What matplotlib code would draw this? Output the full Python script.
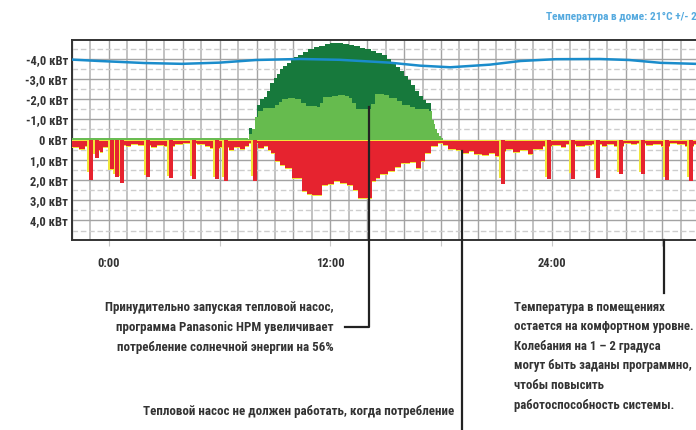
import matplotlib
matplotlib.use("Agg")
import matplotlib.pyplot as plt
from matplotlib import font_manager

# pick a condensed font with Cyrillic if one is installed
installed = {f.name for f in font_manager.fontManager.ttflist}
preferred = ['Roboto Condensed', 'PT Sans Narrow', 'Liberation Sans Narrow',
             'Open Sans Condensed', 'Fira Sans Condensed', 'Ubuntu Condensed', 'Roboto']
cond = [n for n in preferred if n in installed]
plt.rcParams['font.family'] = cond[:1] + ['DejaVu Sans']
plt.rcParams['font.weight'] = 'bold'

# ---- data (hours from midnight, kW) ----
# house consumption taken from the grid (step series, value holds until next time)
cons_t = [-2.0, -1.6, -1.3, -0.9, -0.5, -0.3, 0.0, 0.9, 1.2, 1.6, 2.3, 2.6, 3.0, 3.6, 4.0,
          4.8, 5.2, 5.5, 6.0, 6.5, 6.8, 7.1, 7.4, 7.6, 8.1, 8.4, 8.6, 8.8, 9.0, 9.3,
          9.55, 9.9, 10.45, 10.75, 11.0, 11.55, 11.85, 12.2, 12.55, 12.9, 13.25, 13.5, 14.25, 14.45, 14.7,
          15.1, 15.5, 15.85, 16.3, 16.65, 16.9, 17.15, 17.45, 17.85, 18.1, 18.4, 18.8, 19.2, 19.5, 19.8,
          20.2, 20.6, 20.9, 21.2, 21.5, 21.9, 22.3, 22.7, 23.0, 23.5, 24.0, 24.5, 24.8, 25.3, 25.8,
          26.2, 26.7, 27.0, 27.4, 27.9, 28.3, 28.6, 29.1, 29.5, 29.9, 30.4, 30.8, 31.2, 31.7, 32.2, 33.2]
cons_v = [0.35, 0.45, 0.3, 0.5, 0.6, 0.35, 0.25, 0.3, 0.2, 0.25, 0.35, 0.25, 0.3, 0.2, 0.15,
          0.2, 0.3, 0.4, 0.35, 0.5, 0.35, 0.45, 0.3, 0.15, 0.4, 0.3, 0.5, 0.64, 1.04, 1.24,
          1.39, 1.88, 2.52, 2.67, 2.72, 2.23, 2.18, 2.03, 2.13, 2.23, 2.48, 2.87, 2.03, 1.88, 1.68,
          1.53, 1.34, 1.14, 1.09, 1.39, 1.04, 0.64, 0.30, 0.15, 0.25, 0.45, 0.5, 0.65, 0.55, 0.7,
          0.75, 0.65, 0.8, 0.55, 0.45, 0.6, 0.5, 0.7, 0.45, 0.3, 0.25, 0.35, 0.2, 0.3, 0.25,
          0.2, 0.3, 0.2, 0.3, 0.15, 0.2, 0.15, 0.25, 0.2, 0.3, 0.15, 0.2, 0.3, 0.2, 0.25, 0.25]

# short heat pump / appliance peaks
spike_t = [-1.03, -0.70, 0.11, 0.38, 0.65, 2.06, 3.31, 4.55, 5.80, 6.29, 7.86,
           21.30, 23.79, 25.10, 26.45, 27.70, 28.89, 30.19, 31.49]
spike_red = [1.98, 0.89, 1.44, 1.83, 2.13, 1.83, 1.88, 1.93, 1.93, 2.03, 2.03,
             2.18, 1.93, 1.93, 1.88, 1.68, 1.68, 1.98, 2.03]
spike_yel = [1.6, 0.7, 1.5, 1.7, 1.8, 1.75, 1.8, 1.8, 1.85, 1.85, 1.8,
             1.9, 1.85, 1.65, 1.5, 1.6, 1.6, 1.85, 1.85]

# total solar generation
gen_t = [7.5, 7.6, 7.75, 7.9, 8.0, 8.2, 8.4, 8.55, 8.75, 8.95, 9.1, 9.3, 9.45, 9.65, 9.85,
         10.05, 10.25, 10.5, 10.8, 11.1, 11.4, 11.7, 12.0, 12.7, 13.0, 13.3, 13.6, 13.9, 14.2, 14.5,
         14.8, 15.05, 15.3, 15.55, 15.8, 16.0, 16.2, 16.4, 16.6, 16.8, 17.0, 17.2, 17.45]
gen_v = [0.0, 0.55, 0.3, 1.1, 1.7, 2.0, 2.1, 2.4, 2.8, 3.05, 3.27, 3.5, 3.66, 3.8, 3.95,
         4.1, 4.2, 4.36, 4.47, 4.57, 4.65, 4.72, 4.76, 4.74, 4.7, 4.62, 4.55, 4.5, 4.4, 4.3,
         4.2, 4.0, 3.8, 3.6, 3.4, 3.15, 2.95, 2.7, 2.4, 2.15, 1.95, 1.8, 0.0]

# solar energy used in the house
self_t = [7.45, 7.6, 7.75, 7.9, 8.1, 8.35, 9.0, 9.2, 9.4, 9.7, 10.1, 10.4, 10.7, 11.3, 11.45,
          11.6, 12.1, 12.4, 12.8, 13.0, 13.2, 13.4, 14.2, 14.4, 14.9, 15.2, 15.6, 15.9, 16.3, 16.6,
          17.0, 17.35, 17.5, 17.6, 17.7, 17.8, 17.9, 18.0, 18.1]
self_v = [0.05, 0.3, 0.5, 1.1, 1.4, 1.58, 1.7, 1.85, 2.03, 2.08, 2.03, 1.83, 1.68, 1.63, 1.83,
          2.13, 2.18, 2.23, 2.18, 2.08, 1.83, 1.53, 1.78, 2.28, 2.23, 2.08, 1.93, 1.73, 1.63, 1.49,
          1.53, 1.44, 0.95, 0.75, 0.5, 0.35, 0.2, 0.1, 0.0]

# room temperature curve (drawn on the power scale)
temp_t = [-2.0, -0.5, 1.95, 3.96, 6.0, 7.97, 10.35, 12.5, 15.2, 16.86, 18.5, 20.65, 22.3, 24.2,
          26.6, 28.2, 29.9, 31.8, 33.2]
temp_v = [-3.96, -3.89, -3.79, -3.75, -3.81, -3.94, -3.99, -3.95, -3.81, -3.66, -3.58, -3.71,
          -3.89, -3.98, -3.99, -3.94, -3.80, -3.75, -3.72]

ytick_vals = [-4, -3, -2, -1, 0, 1, 2, 3, 4]
ytick_labels = ['-4,0 кВт', '-3,0 кВт', '-2,0 кВт', '-1,0 кВт', '0 кВт',
                '1,0 кВт', '2,0 кВт', '3,0 кВт', '4,0 кВт']
xtick_vals = [0, 6, 12, 18, 24, 30]
xtick_labels = ['0:00', '', '12:00', '', '24:00', '']

RED = '#e6232f'
YEL = '#f0e73a'
DGREEN = '#17793c'
LGREEN = '#66bb4e'
BLUE = '#1a8ccb'
TXT = '#333333'

fig = plt.figure(figsize=(6.96, 4.30), dpi=100)
ax = fig.add_axes([72 / 696, 1 - 240 / 430, 648 / 696, 200 / 430])

# grid
for h in range(-2, 34):
    ax.axvline(h, color='#a3a3a3' if h % 2 == 0 else '#c2c2c2',
               lw=1.0 if h % 2 == 0 else 1.4, zorder=0)
for v in ytick_vals:
    ax.axhline(v, color='#a3a3a3', lw=1.0, zorder=0)
for v in [-4.5, -3.5, -2.5, -1.5, -0.5, 0.5, 1.5, 2.5, 3.5, 4.5]:
    ax.axhline(v, color='#cdcdcd', lw=1.0, ls=(0, (4, 2)), zorder=0)

# generation (upwards = negative on this scale)
ax.fill_between(gen_t, 0, [-v for v in gen_v], step='post', color=DGREEN, lw=0, zorder=2)
ax.fill_between(self_t, 0, [-v for v in self_v], step='post', color=LGREEN, lw=0, zorder=3)

# consumption from grid: yellow rim + red body
ax.fill_between(cons_t, 0, [v + 0.07 for v in cons_v], step='post', color=YEL, lw=0, zorder=3)
ax.fill_between(cons_t, 0.06, cons_v, step='post', color=RED, lw=0, zorder=4)
ax.bar([t - 0.03 for t in spike_t], spike_yel, width=0.3, color=YEL, lw=0, zorder=4)
ax.bar([t + 0.05 for t in spike_t], spike_red, width=0.22, color=RED, lw=0, zorder=5)
ax.plot([-2, 7.5], [-0.02, -0.02], color=LGREEN, lw=1.4, zorder=6)

# temperature
ax.plot(temp_t, temp_v, color=BLUE, lw=1.8, zorder=7)

ax.set_xlim(-2, 33.12)
ax.set_ylim(4.97, -4.93)
ax.set_yticks(ytick_vals)
ax.set_yticklabels(ytick_labels, fontsize=9, color=TXT)
ax.set_xticks(xtick_vals)
ax.set_xticklabels(xtick_labels, fontsize=9, color=TXT)
ax.tick_params(axis='y', length=0, pad=3)
ax.tick_params(axis='x', length=4, color='#c8c8c8', pad=8, direction='out')
for s in ['top', 'left', 'bottom']:
    ax.spines[s].set_color('#333333')
    ax.spines[s].set_linewidth(1.4)
ax.spines['right'].set_visible(False)

# annotation leader lines
ax.plot([14.09, 14.09, 12.79], [-1.63, 9.3, 9.3], color='#222222', lw=1.6,
        clip_on=False, zorder=8)
ax.plot([19.13, 19.13], [0.54, 14.7], color='#222222', lw=1.6, clip_on=False, zorder=8)
ax.plot([30.08, 30.08], [4.97, 7.6], color='#222222', lw=1.6, clip_on=False, zorder=8)

def fx(px):
    return px / 696

def fy(py):
    return 1 - py / 430

fig.text(fx(546), fy(17), 'Температура в доме: 21°C +/- 2°C', color='#55aadf',
         fontsize=8.2, va='center', ha='left')

fig.text(fx(334), fy(307), 'Принудительно запуская тепловой насос,', color=TXT,
         fontsize=9.4, ha='right', va='center')
fig.text(fx(334), fy(327), 'программа Panasonic HPM увеличивает', color=TXT,
         fontsize=9.4, ha='right', va='center')
fig.text(fx(334), fy(347), 'потребление солнечной энергии на 56%', color=TXT,
         fontsize=9.4, ha='right', va='center')
fig.text(fx(454), fy(412), 'Тепловой насос не должен работать, когда потребление', color=TXT,
         fontsize=9.4, ha='right', va='center')

right_lines = ['Температура в помещениях', 'остается на комфортном уровне.',
               'Колебания на 1 – 2 градуса', 'могут быть заданы программно,',
               'чтобы повысить', 'работоспособность системы.']
for i, line in enumerate(right_lines):
    fig.text(fx(514), fy(307 + 19.6 * i), line, color=TXT, fontsize=9.2,
             ha='left', va='center')

fig.savefig('out.png', dpi=100)
